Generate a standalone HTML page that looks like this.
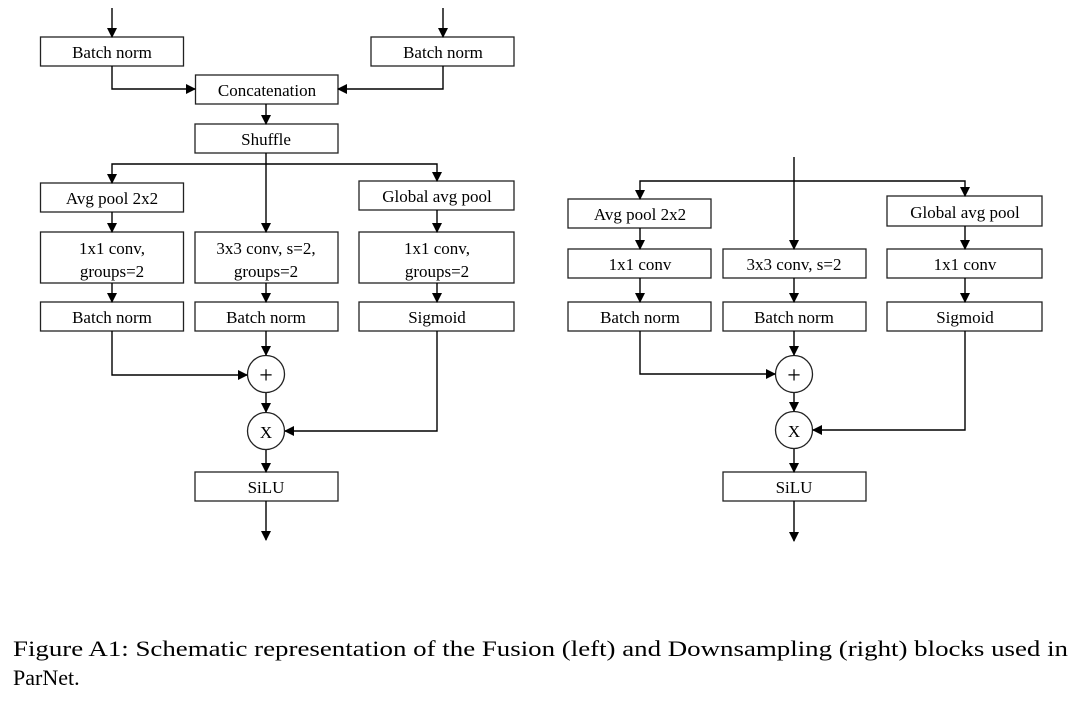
<!DOCTYPE html>
<html><head><meta charset="utf-8"><style>
html,body{margin:0;padding:0;background:#fff;}
svg{display:block;}
text{font-family:"Liberation Serif",serif;fill:#000;}
</style></head><body>
<svg width="1077" height="714" viewBox="0 0 1077 714" xmlns="http://www.w3.org/2000/svg">
<defs>
<marker id="a" markerWidth="10" markerHeight="10" refX="9" refY="5" orient="auto" markerUnits="userSpaceOnUse">
<path d="M0,0 L10,5 L0,10 z" fill="#000"/></marker>
</defs>
<g fill="#fff" stroke="#222" stroke-width="1.3">
<rect x="40.5" y="37" width="143" height="29"/>
<rect x="371" y="37" width="143" height="29"/>
<rect x="195.5" y="75" width="142.5" height="29"/>
<rect x="195" y="124" width="143" height="29"/>
<rect x="40.5" y="183" width="143" height="29"/>
<rect x="359" y="181" width="155" height="29"/>
<rect x="40.5" y="232" width="143" height="51"/>
<rect x="195" y="232" width="143" height="51"/>
<rect x="359" y="232" width="155" height="51"/>
<rect x="40.5" y="302" width="143" height="29"/>
<rect x="195" y="302" width="143" height="29"/>
<rect x="359" y="302" width="155" height="29"/>
<rect x="195" y="472" width="143" height="29"/>
<circle cx="266" cy="374" r="18.5"/>
<circle cx="266" cy="431" r="18.5"/>

<rect x="568" y="199" width="143" height="29"/>
<rect x="887" y="196" width="155" height="30"/>
<rect x="568" y="249" width="143" height="29"/>
<rect x="723" y="249" width="143" height="29"/>
<rect x="887" y="249" width="155" height="29"/>
<rect x="568" y="302" width="143" height="29"/>
<rect x="723" y="302" width="143" height="29"/>
<rect x="887" y="302" width="155" height="29"/>
<rect x="723" y="472" width="143" height="29"/>
<circle cx="794" cy="374" r="18.5"/>
<circle cx="794" cy="430" r="18.5"/>
</g>
<g fill="none" stroke="#000" stroke-width="1.4" marker-end="url(#a)">
<path d="M112,8 V37"/><path d="M443,8 V37"/>
<path d="M112,66 V89 H195"/><path d="M443,66 V89 H338"/>
<path d="M266,104 V124"/>
<path d="M266,164 H112 V183"/><path d="M266,164 H437 V181"/>
<path d="M266,153 V232"/>
<path d="M112,212 V232"/><path d="M437,210 V232"/>
<path d="M112,283 V302"/><path d="M266,283 V302"/><path d="M437,283 V302"/>
<path d="M266,331 V355"/>
<path d="M112,331 V375 H247"/>
<path d="M266,393 V412"/>
<path d="M437,331 V431 H285"/>
<path d="M266,450 V472"/>
<path d="M266,501 V540"/>

<path d="M794,181 H640 V199"/><path d="M794,181 H965 V196"/>
<path d="M794,157 V249"/>
<path d="M640,228 V249"/><path d="M965,226 V249"/>
<path d="M640,278 V302"/><path d="M794,278 V302"/><path d="M965,278 V302"/>
<path d="M794,331 V355"/>
<path d="M640,331 V374 H775"/>
<path d="M794,393 V411"/>
<path d="M965,331 V430 H813"/>
<path d="M794,449 V472"/>
<path d="M794,501 V541"/>
</g>
<g font-size="17" text-anchor="middle">
<text x="112" y="58">Batch norm</text>
<text x="443" y="58">Batch norm</text>
<text x="267" y="96">Concatenation</text>
<text x="266" y="145">Shuffle</text>
<text x="112" y="204">Avg pool 2x2</text>
<text x="437" y="202">Global avg pool</text>
<text x="112" y="254">1x1 conv,</text>
<text x="112" y="277">groups=2</text>
<text x="266" y="254">3x3 conv, s=2,</text>
<text x="266" y="277">groups=2</text>
<text x="437" y="254">1x1 conv,</text>
<text x="437" y="277">groups=2</text>
<text x="112" y="323">Batch norm</text>
<text x="266" y="323">Batch norm</text>
<text x="437" y="323">Sigmoid</text>
<text x="266" y="493">SiLU</text>
<text x="266" y="383" font-size="24">+</text>
<text x="266" y="438">X</text>

<text x="640" y="220">Avg pool 2x2</text>
<text x="965" y="218">Global avg pool</text>
<text x="640" y="270">1x1 conv</text>
<text x="794" y="270">3x3 conv, s=2</text>
<text x="965" y="270">1x1 conv</text>
<text x="640" y="323">Batch norm</text>
<text x="794" y="323">Batch norm</text>
<text x="965" y="323">Sigmoid</text>
<text x="794" y="493">SiLU</text>
<text x="794" y="383" font-size="24">+</text>
<text x="794" y="437">X</text>
</g>
<text x="13" y="656" font-size="22" textLength="1055" lengthAdjust="spacingAndGlyphs">Figure A1: Schematic representation of the Fusion (left) and Downsampling (right) blocks used in</text>
<text x="13" y="685" font-size="22">ParNet.</text>
</svg>
</body></html>
